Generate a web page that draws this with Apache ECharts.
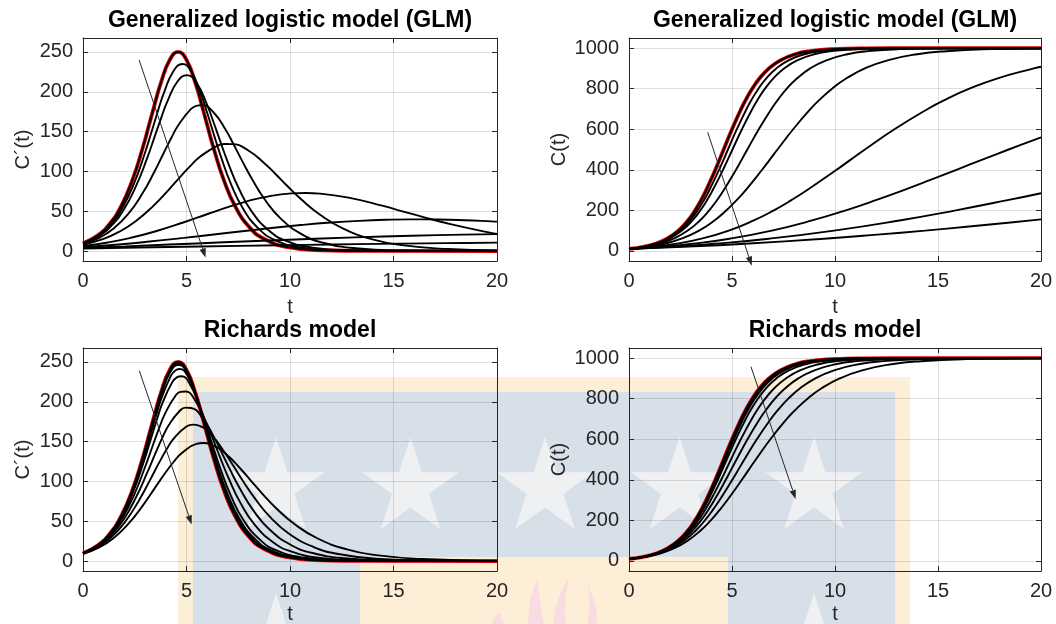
<!DOCTYPE html>
<html>
<head>
<meta charset="utf-8">
<script src="https://cdn.jsdelivr.net/npm/echarts@6/dist/echarts.min.js"></script>
<style>
  html, body { margin: 0; padding: 0; background: #fff; }
  #chart { width: 1056px; height: 624px; }
</style>
</head>
<body>
<div id="chart"></div>
<script>
// ---------------------------------------------------------------
// Model curves, K = 1000, C(0) = 10, r = 1.
// Each curve: time stamps t, cumulative C(t) and rate C'(t).
// ---------------------------------------------------------------

// Logistic (p = 1, a = 1) – the red reference curve
const logT  = [0, 0.703, 1.278, 1.844, 2.398, 2.861, 3.209, 3.497, 3.748, 4.190, 4.595, 5.001, 5.442, 5.694, 5.981, 6.330, 6.792, 7.347, 8.071, 8.780, 9.888, 11.502, 13.805, 20];
const logC  = [10, 20, 35, 60, 100, 150, 200, 250, 300, 400, 500, 600, 700, 750, 800, 850, 900, 940, 970, 985, 995, 999, 999.9, 1000];
const logDC = [9.9, 19.6, 33.78, 56.4, 90, 127.5, 160, 187.5, 210, 240, 250, 240, 210, 187.5, 160, 127.5, 90, 56.4, 29.1, 14.78, 4.98, 1.0, 0.1, 0];

// Generalized logistic model, C' = r C^p (1 - C/K)
const g099T  = [0, 0.722, 1.316, 1.904, 2.483, 2.968, 3.335, 3.638, 3.904, 4.373, 4.804, 5.235, 5.707, 5.975, 6.283, 6.655, 7.150, 7.744, 8.520, 9.279, 10.466, 12.195, 14.663, 20];
const g099C  = [10, 20, 35, 60, 100, 150, 200, 250, 300, 400, 500, 600, 700, 750, 800, 850, 900, 940, 970, 985, 995, 999, 999.9, 1000];
const g099DC = [9.67, 19.02, 32.60, 54.14, 85.95, 121.27, 151.75, 177.43, 198.36, 226.05, 234.94, 225.14, 196.69, 175.50, 149.66, 119.19, 84.09, 52.67, 27.17, 13.79, 4.64, 0.93, 0.09, 0];

const g098T  = [0, 0.742, 1.356, 1.966, 2.570, 3.080, 3.466, 3.787, 4.068, 4.564, 5.023, 5.483, 5.985, 6.272, 6.601, 6.999, 7.529, 8.164, 8.995, 9.809, 11.081, 12.934, 15.579, 20];
const g098C  = [10, 20, 35, 60, 100, 150, 200, 250, 300, 400, 500, 600, 700, 750, 800, 850, 900, 940, 970, 985, 995, 999, 999.9, 1000];
const g098DC = [9.45, 18.46, 31.46, 51.97, 82.08, 115.34, 143.91, 167.90, 187.36, 212.90, 220.78, 211.18, 184.21, 164.25, 139.98, 111.41, 78.55, 49.18, 25.36, 12.87, 4.33, 0.87, 0.09, 0];

const g095T  = [0, 0.803, 1.480, 2.165, 2.854, 3.442, 3.893, 4.270, 4.603, 5.195, 5.472, 5.745, 6.301, 6.912, 7.261, 7.662, 8.150, 8.799, 9.579, 10.600, 11.599, 13.165, 15.444, 18.698, 20];
const g095C  = [10, 20, 35, 60, 100, 150, 200, 250, 300, 400, 450, 500, 600, 700, 750, 800, 850, 900, 940, 970, 985, 995, 999, 999.9, 1000];
const g095DC = [8.82, 16.87, 28.27, 45.96, 71.49, 99.24, 122.76, 142.27, 157.89, 177.87, 182.36, 183.23, 174.30, 151.34, 134.66, 114.54, 91.00, 64.05, 40.05, 20.63, 10.47, 3.52, 0.71, 0.07, 0.03];

const g090T  = [0, 0.917, 1.715, 2.544, 3.400, 4.149, 4.732, 5.226, 5.667, 6.460, 6.835, 7.207, 7.969, 8.813, 9.299, 9.858, 10.540, 11.451, 12.548, 13.987, 15.398, 17.608, 20];
const g090C  = [10, 20, 35, 60, 100, 150, 200, 250, 300, 400, 450, 500, 600, 700, 750, 800, 850, 900, 940, 970, 985, 995, 998.5];
const g090DC = [7.86, 14.53, 23.67, 37.45, 56.79, 77.25, 94.19, 107.95, 118.72, 131.83, 134.35, 134.29, 126.59, 109.07, 96.72, 82.00, 64.95, 45.59, 28.44, 14.63, 7.42, 2.49, 0.75];

const g080T  = [0, 1.196, 2.304, 3.519, 4.843, 6.054, 7.031, 7.880, 8.653, 10.077, 10.764, 11.452, 12.885, 14.499, 15.437, 16.526, 17.861, 19.654, 20];
const g080C  = [10, 20, 35, 60, 100, 150, 200, 250, 300, 400, 450, 500, 600, 700, 750, 800, 850, 900, 907.9];
const g080DC = [6.25, 10.77, 16.59, 24.87, 35.83, 46.81, 55.45, 62.15, 67.11, 72.41, 72.93, 72.13, 66.77, 56.65, 49.89, 42.02, 33.08, 23.09, 21.41];

const g070T  = [0, 1.560, 3.099, 4.882, 6.929, 8.888, 10.525, 11.983, 13.338, 14.631, 15.895, 17.153, 18.428, 19.741, 20];
const g070C  = [10, 20, 35, 60, 100, 150, 200, 250, 300, 350, 400, 450, 500, 550, 559.6];
const g070DC = [4.96, 7.98, 11.62, 16.51, 22.61, 28.36, 32.64, 35.78, 37.94, 39.24, 39.77, 39.59, 38.75, 37.28, 36.93];

const g060T  = [0, 2.036, 4.173, 6.790, 9.955, 13.127, 15.867, 18.374, 20];
const g060C  = [10, 20, 35, 60, 100, 150, 200, 250, 284.3];
const g060DC = [3.94, 5.91, 8.15, 10.97, 14.26, 17.18, 19.22, 20.60, 21.23];

const g050T  = [0, 2.659, 5.627, 9.467, 12.044, 14.365, 16.508, 18.526, 20];
const g050C  = [10, 20, 35, 60, 80, 100, 120, 140, 155.2];
const g050DC = [3.13, 4.38, 5.71, 7.28, 8.23, 9.00, 9.64, 10.18, 10.53];

// Richards model, C' = r C (1 - (C/K)^a)
const r099T  = [0, 0.704, 1.279, 1.845, 2.401, 2.865, 3.215, 3.504, 3.756, 4.200, 4.609, 5.017, 5.462, 5.716, 6.006, 6.358, 6.825, 7.384, 8.116, 8.832, 9.951, 11.581, 13.908, 20];
const r099C  = [10, 20, 35, 60, 100, 150, 200, 250, 300, 400, 500, 600, 700, 750, 800, 850, 900, 940, 970, 985, 995, 999, 999.9, 1000];
const r099DC = [9.90, 19.58, 33.73, 56.30, 89.77, 127.07, 159.35, 186.63, 208.91, 238.53, 248.26, 238.16, 208.25, 185.88, 158.57, 126.33, 89.15, 55.85, 28.81, 14.63, 4.93, 0.99, 0.10, 0];

const r098T  = [0, 0.704, 1.280, 1.847, 2.404, 2.870, 3.221, 3.511, 3.765, 4.212, 4.622, 5.034, 5.483, 5.739, 6.031, 6.386, 6.858, 7.423, 8.162, 8.885, 10.016, 11.662, 14.013, 20];
const r098C  = [10, 20, 35, 60, 100, 150, 200, 250, 300, 400, 500, 600, 700, 750, 800, 850, 900, 940, 970, 985, 995, 999, 999.9, 1000];
const r098DC = [9.89, 19.57, 33.69, 56.19, 89.53, 126.63, 158.69, 185.74, 207.81, 237.04, 246.51, 236.30, 206.49, 184.25, 157.14, 125.15, 88.29, 55.31, 28.52, 14.48, 4.88, 0.98, 0.10, 0];

const r095T  = [0, 0.706, 1.284, 1.854, 2.415, 2.884, 3.240, 3.534, 3.792, 4.247, 4.458, 4.666, 5.087, 5.548, 5.810, 6.111, 6.476, 6.961, 7.544, 8.306, 9.051, 10.218, 11.915, 14.341, 20];
const r095C  = [10, 20, 35, 60, 100, 150, 200, 250, 300, 400, 450, 500, 600, 700, 750, 800, 850, 900, 940, 970, 985, 995, 999, 999.9, 1000];
const r095DC = [9.87, 19.51, 33.55, 55.86, 88.78, 125.26, 156.65, 183.01, 204.42, 232.50, 239.25, 241.18, 230.69, 201.18, 179.35, 152.82, 121.61, 85.72, 53.66, 27.67, 14.04, 4.73, 0.95, 0.10, 0];

const r090T  = [0, 0.709, 1.291, 1.866, 2.434, 2.913, 3.276, 3.577, 3.842, 4.312, 4.531, 4.747, 5.186, 5.667, 5.943, 6.259, 6.642, 7.153, 7.765, 8.569, 9.355, 10.586, 12.378, 14.938, 20];
const r090C  = [10, 20, 35, 60, 100, 150, 200, 250, 300, 400, 450, 500, 600, 700, 750, 800, 850, 900, 940, 970, 985, 995, 999, 999.9, 1000];
const r090DC = [9.84, 19.41, 33.29, 55.23, 87.41, 122.80, 153.01, 178.21, 198.49, 224.65, 230.67, 232.06, 221.13, 192.21, 171.08, 145.56, 115.66, 81.42, 50.92, 26.23, 13.31, 4.48, 0.90, 0.09, 0];

const r080T  = [0, 0.717, 1.310, 1.899, 2.486, 2.986, 3.368, 3.687, 3.970, 4.476, 4.713, 4.948, 5.428, 5.958, 6.263, 6.614, 7.041, 7.612, 8.299, 9.201, 10.085, 11.470, 13.486, 16.365, 20];
const r080C  = [10, 20, 35, 60, 100, 150, 200, 250, 300, 400, 450, 500, 600, 700, 750, 800, 850, 900, 940, 970, 985, 995, 999, 999.9, 1000];
const r080DC = [9.75, 19.13, 32.61, 53.68, 84.15, 117.12, 144.81, 167.53, 185.50, 207.82, 212.44, 212.83, 201.28, 173.77, 154.19, 130.78, 103.63, 72.75, 45.40, 23.35, 11.84, 3.98, 0.80, 0.08, 0];

const r070T  = [0, 0.731, 1.338, 1.949, 2.562, 3.090, 3.497, 3.841, 4.147, 4.699, 4.960, 5.220, 5.753, 6.347, 6.690, 7.086, 7.570, 8.219, 9.001, 10.029, 11.037, 12.620, 14.923, 18.214, 20];
const r070C  = [10, 20, 35, 60, 100, 150, 200, 250, 300, 400, 450, 500, 600, 700, 750, 800, 850, 900, 940, 970, 985, 995, 999, 999.9, 1000];
const r070DC = [9.60, 18.71, 31.65, 51.63, 80.05, 110.25, 135.17, 155.27, 170.85, 189.38, 192.69, 192.21, 180.40, 154.66, 136.80, 115.69, 91.40, 63.99, 39.84, 20.46, 10.37, 3.49, 0.70, 0.07, 0.02];

const r060T  = [0, 0.752, 1.383, 2.024, 2.676, 3.243, 3.685, 4.063, 4.400, 5.015, 5.308, 5.600, 6.206, 6.885, 7.279, 7.735, 8.294, 9.046, 9.954, 11.151, 12.327, 14.171, 16.859, 20];
const r060C  = [10, 20, 35, 60, 100, 150, 200, 250, 300, 400, 450, 500, 600, 700, 750, 800, 850, 900, 940, 970, 985, 995, 999, 999.85];
const r060DC = [9.37, 18.09, 30.32, 48.91, 74.88, 101.94, 123.85, 141.18, 154.32, 169.17, 171.30, 170.12, 158.38, 134.86, 118.90, 100.25, 78.97, 55.13, 34.26, 17.57, 8.89, 2.99, 0.60, 0.09];

const r050T  = [0, 0.787, 1.456, 2.143, 2.852, 3.477, 3.971, 4.394, 4.777, 5.480, 5.818, 6.157, 6.863, 7.661, 8.127, 8.668, 9.333, 10.229, 11.315, 12.748, 14.157, 16.370, 19.594, 20];
const r050C  = [10, 20, 35, 60, 100, 150, 200, 250, 300, 400, 450, 500, 600, 700, 750, 800, 850, 900, 940, 970, 985, 995, 999, 999.2];
const r050DC = [9.00, 17.17, 28.45, 45.30, 68.38, 91.91, 110.56, 125.00, 135.68, 147.02, 148.13, 146.45, 135.24, 114.34, 100.48, 84.46, 66.34, 46.19, 28.64, 14.66, 7.42, 2.49, 0.50, 0.41];

// Tick values
const tTicks    = [0, 5, 10, 15, 20];
const rateTicks = [0, 50, 100, 150, 200, 250];
const cumTicks  = [0, 200, 400, 600, 800, 1000];

// Trend arrows (direction of decreasing p / a): [t0, y0, t1, y1]
const arrowGlmRate  = [2.71, 240, 5.92, -8];
const arrowGlmCum   = [3.82, 585, 5.96, -73];
const arrowRichRate = [2.72, 239, 5.25, 46];
const arrowRichCum  = [5.92, 958, 8.09, 305];

const titles = ['Generalized logistic model (GLM)', 'Generalized logistic model (GLM)', 'Richards model', 'Richards model'];

// ---------------------------------------------------------------
const FONT = "'Liberation Sans', Arial, Helvetica, sans-serif";
const INK = '#262626';
const GRIDLINE = 'rgba(38,38,38,0.15)';

const glmFamily  = [[g099T, g099C, g099DC], [g098T, g098C, g098DC], [g095T, g095C, g095DC], [g090T, g090C, g090DC],
                    [g080T, g080C, g080DC], [g070T, g070C, g070DC], [g060T, g060C, g060DC], [g050T, g050C, g050DC]];
const richFamily = [[r099T, r099C, r099DC], [r098T, r098C, r098DC], [r095T, r095C, r095DC], [r090T, r090C, r090DC],
                    [r080T, r080C, r080DC], [r070T, r070C, r070DC], [r060T, r060C, r060DC], [r050T, r050C, r050DC]];

const gridBoxes = [
  { left: 83,  top: 38,  width: 414, height: 223 },
  { left: 629, top: 38,  width: 412, height: 223 },
  { left: 83,  top: 348, width: 414, height: 223 },
  { left: 629, top: 348, width: 412, height: 223 }
];

function pairs(t, v) { return t.map((x, i) => [x, v[i]]); }

function lineSeries(gi, t, v, color, width) {
  return {
    type: 'line', xAxisIndex: 2 * gi, yAxisIndex: 2 * gi,
    data: pairs(t, v), symbol: 'none', showSymbol: false,
    smooth: 0.5, silent: true, animation: false,
    lineStyle: { color: color, width: width }, z: 3
  };
}

function arrowSeries(gi, a) {
  return {
    type: 'custom', xAxisIndex: 2 * gi, yAxisIndex: 2 * gi, clip: false, silent: true, z: 6,
    data: [a],
    renderItem: function (params, api) {
      const p0 = api.coord([api.value(0), api.value(1)]);
      const p1 = api.coord([api.value(2), api.value(3)]);
      const ang = Math.atan2(p1[1] - p0[1], p1[0] - p0[0]);
      const L = 9, W = 3.2;
      const bx = p1[0] - L * Math.cos(ang), by = p1[1] - L * Math.sin(ang);
      const nx = -Math.sin(ang) * W, ny = Math.cos(ang) * W;
      return {
        type: 'group',
        children: [
          { type: 'line', shape: { x1: p0[0], y1: p0[1], x2: bx, y2: by }, style: { stroke: INK, lineWidth: 1 } },
          { type: 'polygon', shape: { points: [[p1[0], p1[1]], [bx + nx, by + ny], [bx - nx, by - ny]] }, style: { fill: INK } }
        ]
      };
    }
  };
}

const labelStyle = { color: INK, fontSize: 20, fontFamily: FONT };

function xAxes(gi, nameGap) {
  const common = {
    type: 'value', gridIndex: gi, min: 0, max: 20, interval: 5,
    axisLine: { show: true, onZero: false, lineStyle: { color: INK, width: 1 } },
    axisTick: { show: true, inside: true, length: 5, lineStyle: { color: INK } }
  };
  return [
    Object.assign({}, common, {
      position: 'bottom',
      axisLabel: Object.assign({ margin: 10, formatter: function (v) { return String(v); } }, labelStyle),
      splitLine: { show: true, lineStyle: { color: GRIDLINE, width: 1 } },
      name: 't', nameLocation: 'middle', nameGap: nameGap,
      nameTextStyle: { color: INK, fontSize: 20, fontFamily: FONT }
    }),
    Object.assign({}, common, {
      position: 'top', axisLabel: { show: false }, splitLine: { show: false }
    })
  ];
}

function yAxes(gi, min, max, ticks, name, nameGap) {
  const common = {
    type: 'value', gridIndex: gi, min: min, max: max,
    axisLine: { show: true, onZero: false, lineStyle: { color: INK, width: 1 } },
    axisTick: { show: true, inside: true, length: 5, customValues: ticks, lineStyle: { color: INK } }
  };
  return [
    Object.assign({}, common, {
      position: 'left',
      axisLabel: Object.assign({ margin: 10, customValues: ticks, formatter: function (v) { return String(v); } }, labelStyle),
      splitLine: { show: true, lineStyle: { color: GRIDLINE, width: 1 } },
      name: name, nameLocation: 'middle', nameGap: nameGap, nameRotate: 90,
      nameTextStyle: { color: INK, fontSize: 20, fontFamily: FONT }
    }),
    Object.assign({}, common, {
      position: 'right', axisLabel: { show: false }, splitLine: { show: false }
    })
  ];
}

const series = [];
// panel 0: GLM rate, panel 1: GLM cumulative, panel 2: Richards rate, panel 3: Richards cumulative
[[0, glmFamily, 2], [1, glmFamily, 1], [2, richFamily, 2], [3, richFamily, 1]].forEach(function (p) {
  const gi = p[0], fam = p[1], k = p[2];
  series.push(lineSeries(gi, logT, k === 2 ? logDC : logC, '#e00000', 3.8));
  series.push(lineSeries(gi, logT, k === 2 ? logDC : logC, '#000000', 1.9));
  fam.forEach(function (c) { series.push(lineSeries(gi, c[0], c[k], '#000000', 1.9)); });
});
series.push(arrowSeries(0, arrowGlmRate));
series.push(arrowSeries(1, arrowGlmCum));
series.push(arrowSeries(2, arrowRichRate));
series.push(arrowSeries(3, arrowRichCum));

// Background emblem (stars on a blue field with a gold border and flames)
function starPoints(cx, cy, R) {
  const pts = [];
  for (let k = 0; k < 10; k++) {
    const r = (k % 2) ? R * 0.382 : R;
    const a = -Math.PI / 2 + k * Math.PI / 5;
    pts.push([cx + r * Math.cos(a), cy + r * Math.sin(a)]);
  }
  return pts;
}
function quad(p0, c, p1, n) {
  const out = [];
  for (let i = 0; i <= n; i++) {
    const s = i / n, u = 1 - s;
    out.push([u * u * p0[0] + 2 * u * s * c[0] + s * s * p1[0], u * u * p0[1] + 2 * u * s * c[1] + s * s * p1[1]]);
  }
  return out;
}
function flamePoints(xl, xr, tip, cl, cr) {
  return quad([xl, 624], cl, tip, 12).concat(quad(tip, cr, [xr, 624], 12).slice(1));
}
const GOLD = '#fdeed8', BLUE = '#d7dfe9', STAR = '#eef0f2', FLAME = '#f8dce2';
const emblem = [
  { type: 'rect', shape: { x: 178, y: 377, width: 732, height: 247 }, style: { fill: GOLD } },
  { type: 'rect', shape: { x: 193, y: 392, width: 702, height: 232 }, style: { fill: BLUE } },
  { type: 'rect', shape: { x: 360, y: 557, width: 368, height: 67 }, style: { fill: GOLD } }
];
[[276, 488], [410.5, 488], [545, 488], [679.5, 488], [814, 488], [276, 644], [814, 644]].forEach(function (s) {
  emblem.push({ type: 'polygon', shape: { points: starPoints(s[0], s[1], 51) }, style: { fill: STAR } });
});
[
  [528, 544, [537, 580], [528, 600], [540, 602]],
  [553, 566, [569, 578], [556, 596], [563, 602]],
  [587, 597, [586, 582], [593, 598], [598, 604]],
  [492, 504, [500, 612], [494, 617], [501, 618]]
].forEach(function (f) {
  emblem.push({ type: 'polygon', shape: { points: flamePoints(f[0], f[1], f[2], f[3], f[4]) }, style: { fill: FLAME } });
});
emblem.forEach(function (e) { e.silent = true; e.z = -100; });

const titleOpts = titles.map(function (txt, i) {
  const g = gridBoxes[i];
  return {
    text: txt, left: g.left + g.width / 2 - 5, top: g.top - 34, textAlign: 'center',
    textStyle: { color: '#000', fontSize: 23, fontWeight: 'bold', fontFamily: FONT }
  };
});

const option = {
  backgroundColor: '#ffffff',
  animation: false,
  title: titleOpts,
  graphic: { elements: emblem },
  grid: gridBoxes.map(function (g) { return Object.assign({ containLabel: false, outerBoundsMode: 'none' }, g); }),
  xAxis: [].concat(xAxes(0, 36), xAxes(1, 36), xAxes(2, 33), xAxes(3, 33)),
  yAxis: [].concat(
    yAxes(0, -12.5, 267.5, rateTicks, 'C\u00b4(t)', 50),
    yAxes(1, -50, 1050, cumTicks, 'C(t)', 60),
    yAxes(2, -12.5, 267.5, rateTicks, 'C\u00b4(t)', 50),
    yAxes(3, -50, 1050, cumTicks, 'C(t)', 60)
  ),
  series: series
};

const chart = echarts.init(document.getElementById('chart'), null, { renderer: 'canvas' });
chart.setOption(option);
</script>
</body>
</html>
